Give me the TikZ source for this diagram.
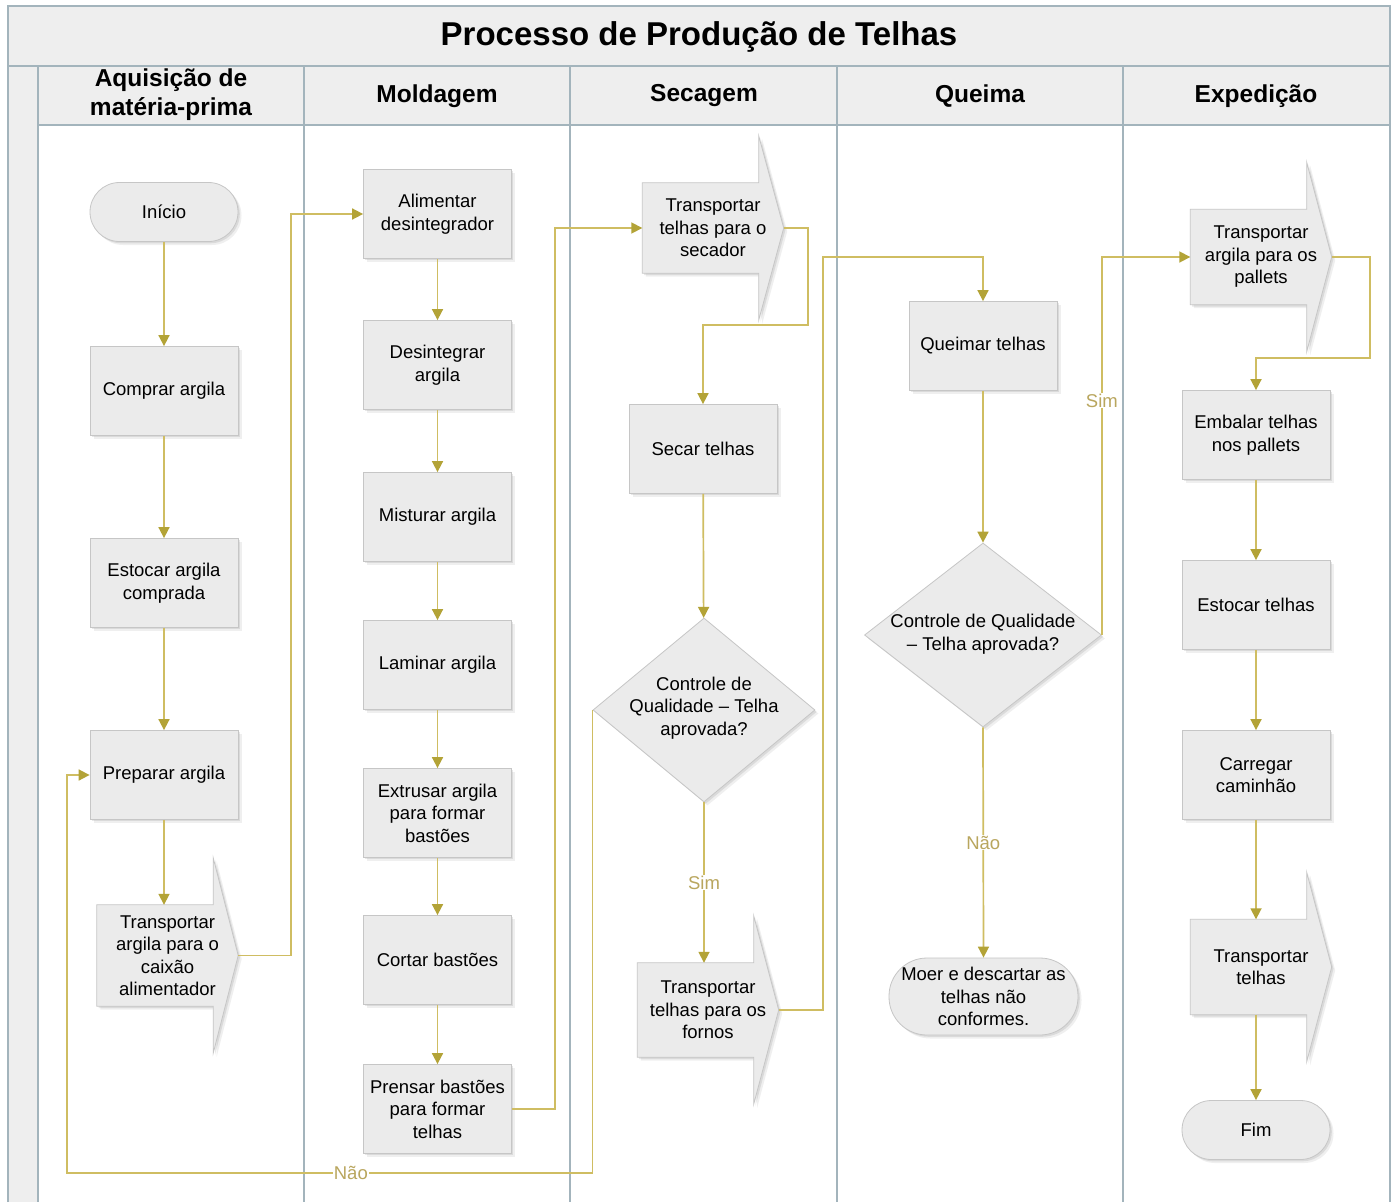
\documentclass[tikz,border=0pt]{standalone}
\usepackage{fontspec}
\setmainfont{Liberation Sans}
\usetikzlibrary{arrows.meta,shapes.geometric,shadows,calc}
\definecolor{lanec}{HTML}{A3B4BC}
\definecolor{headfill}{HTML}{EEEEEE}
\definecolor{boxfill}{HTML}{EBEBEB}
\definecolor{boxline}{HTML}{C6C6C6}
\definecolor{linec}{HTML}{CFBD62}
\definecolor{tipc}{HTML}{B3A337}
\definecolor{lblc}{HTML}{B9A65E}
\newcommand\flowfont{\fontsize{18.5}{22.5}\selectfont}
\newcommand\headfont{\fontsize{24.5}{29}\selectfont\bfseries}
\newcommand\titlefont{\fontsize{33}{38}\selectfont\bfseries}
\pgfdeclarelayer{lanes}
\pgfdeclarelayer{arrowbg}
\pgfsetlayers{lanes,arrowbg,main}
\begin{document}
\begin{tikzpicture}[x=1pt,y=-1pt,
  softshadow/.style={
    drop shadow={opacity=0.12,shadow xshift=3.5pt,shadow yshift=-3.5pt},
    drop shadow={opacity=0.18,shadow xshift=1.8pt,shadow yshift=-1.8pt}},
  box/.style={draw=boxline,fill=boxfill,line width=0.8pt,minimum width=148pt,
    minimum height=89pt,inner sep=0pt,align=center,font=\flowfont,softshadow},
  term/.style={box,rounded corners=29.5pt,minimum height=59pt},
  flowarrow/.style={inner sep=0pt,minimum width=141pt,minimum height=94pt,
    align=center,font=\flowfont},
  arrowbody/.style={draw=boxline,fill=boxfill,line width=0.8pt,softshadow},
  dia/.style={diamond,draw=boxline,fill=boxfill,line width=0.8pt,inner sep=0pt,softshadow},
  diatext/.style={align=center,font=\flowfont,inner sep=0pt},
  flow/.style={draw=linec,line width=1.7pt,-{Triangle[width=11pt,length=11pt,color=tipc]}},
  lbl/.style={fill=white,text=lblc,font=\flowfont,inner sep=1pt},
  head/.style={align=center,font=\headfont},
  laneline/.style={draw=lanec,line width=1.6pt}
]
\useasboundingbox (0,0) rectangle (1397,1202);

% pool, title band and lane headers
\begin{pgfonlayer}{lanes}
  \fill[white] (0,0) rectangle (1397,1202);
  \fill[headfill] (8,6) rectangle (1390,125);
  \fill[headfill] (8,66) rectangle (38,1202);
  \draw[laneline] (8,1202) -- (8,6) -- (1390,6) -- (1390,1202);
  \draw[laneline] (8,66) -- (1390,66);
  \draw[laneline] (38,125) -- (1390,125);
  \foreach \lx in {38,304,570,837,1123}
    \draw[laneline] (\lx,66) -- (\lx,1202);
\end{pgfonlayer}

\node[font=\titlefont] (title) at (699,37) {Processo de Produção de Telhas};
\node[head] (h1) at (171,95) {Aquisição de\\matéria-prima};
\node[head] (h2) at (437,96) {Moldagem};
\node[head] (h3) at (704,96) {Secagem};
\node[head] (h4) at (980,96) {Queima};
\node[head] (h5) at (1256,96) {Expedição};

% Aquisição de matéria-prima
\node[term] (ini) at (164,212) {Início};
\node[box] (comp) at (164,391) {Comprar argila};
\node[box] (est) at (164,583) {Estocar argila\\comprada};
\node[box] (prep) at (164,775) {Preparar argila};
\node[flowarrow,minimum height=101pt] (cx) at (167.5,955.5) {Transportar\\argila para o\\caixão\\alimentador};

% Moldagem
\node[box] (ali) at (437.5,214) {Alimentar\\desintegrador};
\node[box] (des) at (437.5,365) {Desintegrar\\argila};
\node[box] (mis) at (437.5,517) {Misturar argila};
\node[box] (lam) at (437.5,665) {Laminar argila};
\node[box] (ext) at (437.5,813) {Extrusar argila\\para formar\\bastões};
\node[box] (cor) at (437.5,960) {Cortar bastões};
\node[box] (pre) at (437.5,1109) {Prensar bastões\\para formar\\telhas};

% Secagem
\node[flowarrow,minimum height=90pt] (ts) at (713,228) {Transportar\\telhas para o\\secador};
\node[box] (sec) at (703,449) {Secar telhas};
\node[dia,minimum width=222pt,minimum height=184pt] (d1) at (704,710) {};
\node[diatext] (d1t) at (704,708) {Controle de\\Qualidade – Telha\\aprovada?};
\node[flowarrow] (tf) at (708,1010) {Transportar\\telhas para os\\fornos};

% Queima
\node[box] (qt) at (983,346) {Queimar telhas};
\node[dia,minimum width=237pt,minimum height=184pt] (d2) at (983,635) {};
\node[diatext] (d2t) at (983,634) {Controle de Qualidade\\– Telha aprovada?};
\node[box,rounded corners=38pt,minimum width=189pt,minimum height=77pt] (moer) at (983.5,996.5) {Moer e descartar as\\telhas não\\conformes.};

% Expedição
\node[flowarrow,minimum height=95pt] (tp) at (1261,257) {Transportar\\argila para os\\pallets};
\node[box] (emb) at (1256,435) {Embalar telhas\\nos pallets};
\node[box] (est2) at (1256,605) {Estocar telhas};
\node[box] (car) at (1256,775) {Carregar\\caminhão};
\node[flowarrow,minimum height=95pt] (tt) at (1261,967) {Transportar\\telhas};
\node[term] (fim) at (1256,1130) {Fim};

% block-arrow outlines behind the transport steps
\begin{pgfonlayer}{arrowbg}
  \foreach \n in {cx,ts,tf,tp,tt}
    \path[arrowbody] (\n.north west) -- ([xshift=-25pt]\n.north east)
      -- ([xshift=-25pt,yshift=47pt]\n.north east) -- (\n.east)
      -- ([xshift=-25pt,yshift=-47pt]\n.south east) -- ([xshift=-25pt]\n.south east)
      -- (\n.south west) -- cycle;
\end{pgfonlayer}

% connectors
\draw[flow] (ini) -- (comp);
\draw[flow] (comp) -- (est);
\draw[flow] (est) -- (prep);
\draw[flow] (prep.south) -- (prep.south |- cx.north);
\draw[flow] (cx.east) -- ++(53,0) |- (ali.west);

\draw[flow] (ali) -- (des);
\draw[flow] (des) -- (mis);
\draw[flow] (mis) -- (lam);
\draw[flow] (lam) -- (ext);
\draw[flow] (ext) -- (cor);
\draw[flow] (cor) -- (pre);
\draw[flow] (pre.east) -- ++(43,0) |- (ts.west);

\draw[flow] (ts.east) -- ++(24,0) -- ++(0,97) -| (sec.north);
\draw[flow] (sec) -- (d1);
\draw[flow] (d1.south) -- node[lbl] (sim1) {Sim} (d1.south |- tf.north);
\coordinate (back) at (67,1173);
\draw[flow] (d1.west) |- node[lbl,pos=0.73] (nao1) {Não} (back) |- (prep.west);

\draw[flow] (tf.east) -- ++(44,0) |- ([yshift=44pt]qt.north) -- (qt.north);
\draw[flow] (qt) -- (d2);
\draw[flow] (d2.east) |- node[lbl,pos=0.31] (sim2) {Sim} (tp.west);
\draw[flow] (d2.south) -- node[lbl] (nao2) {Não} (moer.north);

\draw[flow] (tp.east) -- ++(38,0) -- ++(0,101) -| (emb.north);
\draw[flow] (emb) -- (est2);
\draw[flow] (est2) -- (car);
\draw[flow] (car.south) -- (car.south |- tt.north);
\draw[flow] (fim.north |- tt.south) -- (fim.north);
\end{tikzpicture}
\end{document}
